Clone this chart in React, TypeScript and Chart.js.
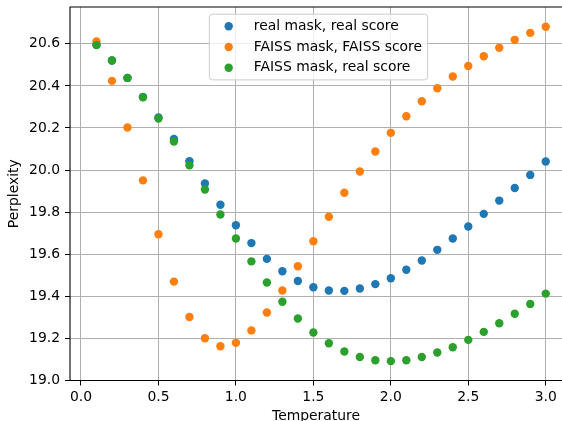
import React, { useEffect, useRef } from "react";
import { Chart, registerables } from "chart.js";

Chart.register(...registerables);

// ---------- data ----------
const temperature = [
  0.1, 0.2, 0.3, 0.4, 0.5, 0.6, 0.7, 0.8, 0.9, 1.0,
  1.1, 1.2, 1.3, 1.4, 1.5, 1.6, 1.7, 1.8, 1.9, 2.0,
  2.1, 2.2, 2.3, 2.4, 2.5, 2.6, 2.7, 2.8, 2.9, 3.0,
];

const realMaskRealScore = [
  20.595, 20.521, 20.438, 20.347, 20.25, 20.148, 20.042, 19.936, 19.835, 19.738,
  19.653, 19.578, 19.519, 19.473, 19.443, 19.428, 19.426, 19.437, 19.458, 19.486,
  19.526, 19.57, 19.621, 19.675, 19.732, 19.792, 19.855, 19.915, 19.977, 20.041,
];

const faissMaskFaissScore = [
  20.611, 20.424, 20.202, 19.951, 19.695, 19.47, 19.302, 19.201, 19.163, 19.179,
  19.238, 19.323, 19.428, 19.543, 19.662, 19.778, 19.892, 19.993, 20.088, 20.177,
  20.256, 20.327, 20.389, 20.445, 20.495, 20.541, 20.581, 20.619, 20.652, 20.681,
];

const faissMaskRealScore = [
  20.594, 20.521, 20.438, 20.346, 20.245, 20.136, 20.023, 19.908, 19.789, 19.675,
  19.566, 19.466, 19.374, 19.295, 19.228, 19.177, 19.138, 19.112, 19.096, 19.092,
  19.096, 19.112, 19.133, 19.158, 19.193, 19.231, 19.272, 19.317, 19.364, 19.413,
];

const seriesLabels = [
  "real mask, real score",
  "FAISS mask, FAISS score",
  "FAISS mask, real score",
];

const xTicks = [0.0, 0.5, 1.0, 1.5, 2.0, 2.5, 3.0];
const yTicks = [19.0, 19.2, 19.4, 19.6, 19.8, 20.0, 20.2, 20.4, 20.6];

const xAxisTitle = "Temperature";
const yAxisTitle = "Perplexity";

// ---------- styles ----------
const COLORS = ["#1f77b4", "#ff7f0e", "#2ca02c"];
const FONT_FAMILY = "DejaVu Sans";
const FS = 13.9;
const POINT_R = 4.2;

const frameAndLegend = {
  id: "frameAndLegend",
  afterDatasetsDraw(chart: any) {
    const { ctx, chartArea: a } = chart;
    ctx.save();
    // spines (top, left, bottom; right spine lies beyond the canvas)
    ctx.strokeStyle = "#000";
    ctx.lineWidth = 1.1;
    ctx.beginPath();
    ctx.moveTo(chart.width + 2, a.top);
    ctx.lineTo(a.left, a.top);
    ctx.lineTo(a.left, a.bottom);
    ctx.lineTo(chart.width + 2, a.bottom);
    ctx.stroke();

    // legend (matplotlib style)
    ctx.font = `${FS}px "${FONT_FAMILY}"`;
    const labels = chart.data.datasets.map((d: any) => d.label);
    const maxW = Math.max(...labels.map((l: string) => ctx.measureText(l).width));
    const left = a.left + 139.3;
    const top = a.top + 7.2;
    const textOff = 44.5;
    const width = textOff + maxW + 5.6;
    const height = 65.7;
    ctx.beginPath();
    ctx.roundRect(left, top, width, height, 3);
    ctx.fillStyle = "rgba(255,255,255,0.8)";
    ctx.fill();
    ctx.strokeStyle = "#cccccc";
    ctx.lineWidth = 1;
    ctx.stroke();
    const rowH = 20.8;
    chart.data.datasets.forEach((d: any, i: number) => {
      const cy = top + 12 + i * rowH;
      ctx.beginPath();
      ctx.arc(left + 19.4, cy, POINT_R, 0, Math.PI * 2);
      ctx.fillStyle = d.backgroundColor;
      ctx.fill();
      ctx.fillStyle = "#000";
      ctx.textBaseline = "middle";
      ctx.textAlign = "left";
      ctx.fillText(d.label, left + textOff, cy);
    });
    ctx.restore();
  },
};

export default function App() {
  const ref = useRef<HTMLCanvasElement | null>(null);

  useEffect(() => {
    if (!ref.current) return;
    Chart.defaults.font.family = FONT_FAMILY;
    Chart.defaults.font.size = FS;
    Chart.defaults.color = "#000";

    const series = [realMaskRealScore, faissMaskFaissScore, faissMaskRealScore];
    const datasets = series.map((vals, i) => ({
      label: seriesLabels[i],
      data: temperature.map((t, j) => ({ x: t, y: vals[j] })),
      backgroundColor: COLORS[i],
      borderColor: COLORS[i],
      borderWidth: 0,
      pointRadius: POINT_R,
      pointHoverRadius: POINT_R,
      showLine: false,
      order: 3 - i,
    }));

    const chart = new Chart(ref.current, {
      type: "scatter",
      data: { datasets },
      plugins: [frameAndLegend],
      options: {
        animation: false,
        responsive: false,
        devicePixelRatio: 1,
        events: [],
        layout: { autoPadding: false, padding: { top: 7, left: 0, right: 0, bottom: 0 } },
        plugins: {
          legend: { display: false },
          tooltip: { enabled: false },
          title: { display: false },
        },
        scales: {
          x: {
            type: "linear",
            min: -0.071,
            max: 3.105,
            afterBuildTicks: (s: any) => {
              s.ticks = xTicks.map((v) => ({ value: v }));
            },
            afterFit: (s: any) => {
              s.height = 40.5;
              s.paddingLeft = 0;
              s.paddingRight = 0;
            },
            grid: {
              color: "#b0b0b0",
              lineWidth: 1,
              drawTicks: true,
              tickLength: 5,
              tickColor: "#000",
              tickWidth: 1,
            },
            border: { display: false },
            ticks: {
              color: "#000",
              font: { size: FS },
              padding: 4,
              autoSkip: false,
              maxRotation: 0,
              callback: (v: any) => Number(v).toFixed(1),
            },
            title: {
              display: true,
              text: xAxisTitle,
              color: "#000",
              font: { size: FS },
              padding: { top: 0, bottom: -3.5 },
            },
          },
          y: {
            type: "linear",
            min: 19.0,
            max: 20.775,
            afterBuildTicks: (s: any) => {
              s.ticks = yTicks.map((v) => ({ value: v }));
            },
            afterFit: (s: any) => {
              s.width = 70;
              s.paddingTop = 0;
              s.paddingBottom = 0;
            },
            grid: {
              color: "#b0b0b0",
              lineWidth: 1,
              drawTicks: true,
              tickLength: 5,
              tickColor: "#000",
              tickWidth: 1,
            },
            border: { display: false },
            ticks: {
              color: "#000",
              font: { size: FS },
              padding: 5,
              autoSkip: false,
              callback: (v: any) => Number(v).toFixed(1),
            },
            title: {
              display: true,
              text: yAxisTitle,
              color: "#000",
              font: { size: FS },
              padding: { top: 6, bottom: 0 },
            },
          },
        },
      } as any,
    });

    return () => chart.destroy();
  }, []);

  return (
    <div style={{ position: "absolute", left: 0, top: 0, width: 562, height: 421, background: "#fff" }}>
      <canvas ref={ref} width={562} height={421} style={{ display: "block" }} />
    </div>
  );
}
